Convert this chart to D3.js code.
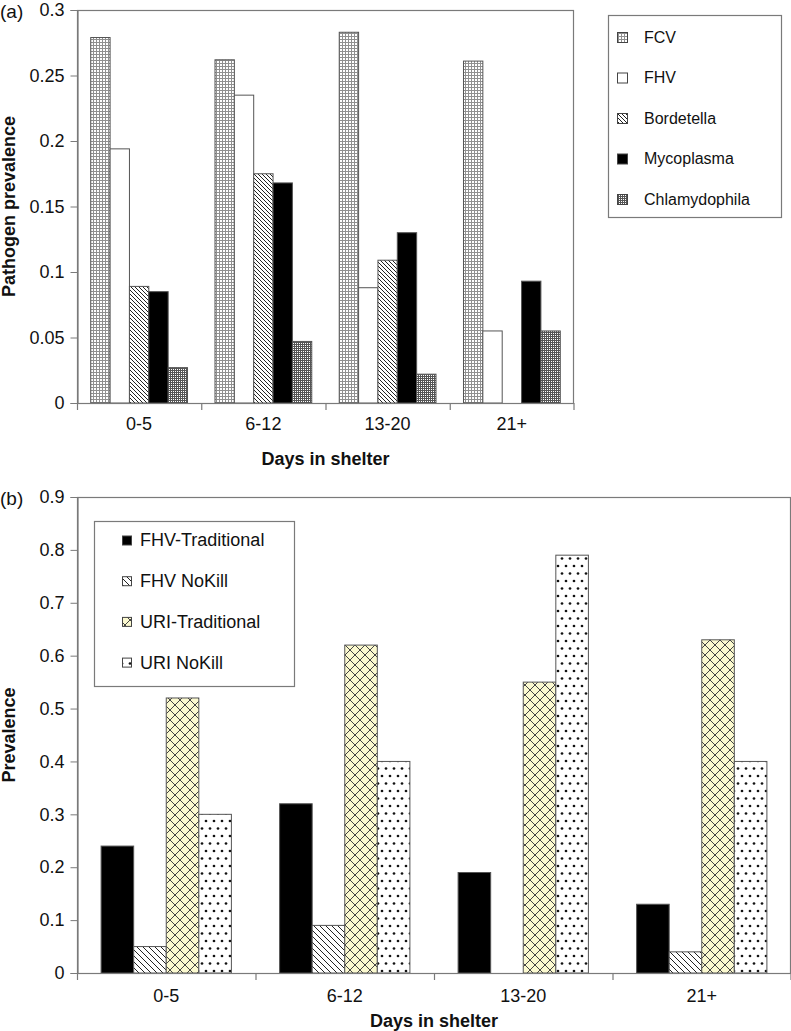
<!DOCTYPE html>
<html><head><meta charset="utf-8">
<script src="https://cdn.jsdelivr.net/npm/d3@7"></script>
<style>
html,body{margin:0;padding:0;background:#fff;}
text{font-family:"Liberation Sans",Arial,sans-serif;fill:#111;}
</style></head>
<body>
<svg id="chart" width="791" height="1031"></svg>
<script>
// ---------- data ----------
const categories = ["0-5", "6-12", "13-20", "21+"];

const seriesA = ["FCV", "FHV", "Bordetella", "Mycoplasma", "Chlamydophila"];
const fcv           = [0.279, 0.262, 0.283, 0.261];
const fhv           = [0.194, 0.235, 0.088, 0.055];
const bordetella    = [0.089, 0.175, 0.109, 0];
const mycoplasma    = [0.085, 0.168, 0.130, 0.093];
const chlamydophila = [0.027, 0.047, 0.022, 0.055];
const yTicksA = [0, 0.05, 0.1, 0.15, 0.2, 0.25, 0.3];

const seriesB = ["FHV-Traditional", "FHV NoKill", "URI-Traditional", "URI NoKill"];
const fhvTraditional = [0.24, 0.32, 0.19, 0.13];
const fhvNoKill      = [0.05, 0.09, 0, 0.04];
const uriTraditional = [0.52, 0.62, 0.55, 0.63];
const uriNoKill      = [0.30, 0.40, 0.79, 0.40];
const yTicksB = [0, 0.1, 0.2, 0.3, 0.4, 0.5, 0.6, 0.7, 0.8, 0.9];

const valuesA = [fcv, fhv, bordetella, mycoplasma, chlamydophila];
const valuesB = [fhvTraditional, fhvNoKill, uriTraditional, uriNoKill];

// ---------- patterns ----------
const svg = d3.select("#chart");
const defs = svg.append("defs");

function pat(id, w, h, fill) {
  const p = defs.append("pattern").attr("id", id).attr("patternUnits", "userSpaceOnUse")
    .attr("width", w).attr("height", h);
  p.append("rect").attr("width", w).attr("height", h).attr("fill", fill);
  return p;
}
// FCV: light grid with white squares
let p = pat("pFCV", 3, 3, "#fff");
p.append("rect").attr("width", 3).attr("height", 1).attr("fill", "#909090");
p.append("rect").attr("width", 1).attr("height", 3).attr("fill", "#909090");
// Chlamydophila: dense dark grid
p = pat("pCHL", 2, 2, "#fff");
p.append("rect").attr("width", 2).attr("height", 1).attr("fill", "#555");
p.append("rect").attr("width", 1).attr("height", 2).attr("fill", "#555");
// Bordetella: back-diagonal lines
p = pat("pBOR", 4, 4, "#fff");
p.append("path").attr("d", "M-1,-1L5,5M-1,3L1,5M3,-1L5,1").attr("stroke", "#222").attr("stroke-width", 1);
// FHV NoKill: back-diagonal lines wider
p = pat("pNK", 6, 6, "#fff");
p.append("path").attr("d", "M-1,-1L7,7M-1,5L1,7M5,-1L7,1").attr("stroke", "#222").attr("stroke-width", 1);
// URI-Traditional: yellow with crosshatch
p = pat("pURI", 10, 10, "#fbf9cf");
p.append("path").attr("d", "M0,0L10,10M10,0L0,10").attr("stroke", "#444").attr("stroke-width", 1);
// URI NoKill: staggered dots
p = pat("pDOT", 8, 15, "#fff");
p.append("circle").attr("cx", 2).attr("cy", 3.5).attr("r", 1.35).attr("fill", "#111");
p.append("circle").attr("cx", 6).attr("cy", 11).attr("r", 1.35).attr("fill", "#111");

const fillsA = ["url(#pFCV)", "#fff", "url(#pBOR)", "#000", "url(#pCHL)"];
const fillsB = ["#000", "url(#pNK)", "url(#pURI)", "url(#pDOT)"];

const frameColor = "#7a7a7a";

function drawPanel(opt) {
  const g = svg.append("g");
  const x = d3.scaleBand().domain(categories).range([opt.left, opt.right]).padding(0);
  const x1 = d3.scaleBand().domain(opt.series).range([0, x.bandwidth()])
    .paddingInner(0).paddingOuter(opt.outer);
  const y = d3.scaleLinear().domain([0, opt.ymax]).range([opt.bottom, opt.top]);

  // frame
  g.append("rect").attr("x", opt.left + 0.5).attr("y", opt.top + 0.5)
    .attr("width", opt.right - opt.left - 1).attr("height", opt.bottom - opt.top)
    .attr("fill", "none").attr("stroke", frameColor).attr("stroke-width", 1.2);

  // bars
  opt.series.forEach((s, si) => {
    categories.forEach((c, ci) => {
      const v = opt.values[si][ci];
      if (!v) return;
      g.append("rect")
        .attr("x", x(c) + x1(s)).attr("y", y(v))
        .attr("width", x1.bandwidth()).attr("height", y(0) - y(v))
        .attr("fill", opt.fills[si]).attr("stroke", "#555").attr("stroke-width", 1);
    });
  });

  // y axis
  const ya = d3.axisLeft(y).tickValues(opt.yticks).tickSize(7).tickPadding(6)
    .tickFormat(d => String(d));
  const yg = g.append("g").attr("transform", `translate(${opt.left + 0.5},0)`).call(ya);
  yg.select(".domain").attr("stroke", frameColor).attr("stroke-width", 1.2);
  yg.selectAll(".tick line").attr("stroke", frameColor);
  yg.selectAll(".tick text").attr("font-size", 18).attr("font-family", "Liberation Sans, Arial, sans-serif").attr("fill", "#111");

  // x axis baseline + boundary ticks
  g.append("line").attr("x1", opt.left).attr("x2", opt.right).attr("y1", opt.bottom + 0.5).attr("y2", opt.bottom + 0.5)
    .attr("stroke", frameColor).attr("stroke-width", 1.2);
  const bounds = categories.map(c => x(c)).concat([x.range()[1] - 0.5]);
  g.selectAll(".xt").data(bounds).enter().append("line")
    .attr("x1", d => d + 0.5).attr("x2", d => d + 0.5)
    .attr("y1", opt.bottom).attr("y2", opt.bottom + 7)
    .attr("stroke", frameColor).attr("stroke-width", 1.2);
  g.selectAll(".xl").data(categories).enter().append("text")
    .attr("x", d => x(d) + x.bandwidth() / 2).attr("y", opt.bottom + opt.catOff)
    .attr("text-anchor", "middle").attr("font-size", 18).text(d => d);

  // titles
  g.append("text").attr("x", (opt.left + opt.right) / 2).attr("y", opt.xTitleY)
    .attr("text-anchor", "middle").attr("font-size", 18).attr("font-weight", "bold").text("Days in shelter");
  g.append("text").attr("transform", `translate(15,${(opt.top + opt.bottom) / 2}) rotate(-90)`)
    .attr("text-anchor", "middle").attr("font-size", 18).attr("font-weight", "bold").text(opt.yTitle);
  g.append("text").attr("x", 0).attr("y", opt.top + 8).attr("font-size", 19).text(opt.tag);

  // legend
  const L = opt.legend;
  g.append("rect").attr("x", L.x + 0.5).attr("y", L.y + 0.5).attr("width", L.w).attr("height", L.h)
    .attr("fill", "#fff").attr("stroke", frameColor).attr("stroke-width", 1.2);
  opt.series.forEach((s, i) => {
    const cy = L.firstY + i * L.step;
    g.append("rect").attr("x", L.sx + 0.5).attr("y", cy - L.sw / 2 + 0.5).attr("width", L.sw).attr("height", L.sw)
      .attr("fill", opt.fills[i]).attr("stroke", "#444").attr("stroke-width", 1);
    g.append("text").attr("x", L.tx).attr("y", cy).attr("dy", "0.36em")
      .attr("font-size", L.fs).text(s);
  });
}

drawPanel({
  series: seriesA, values: valuesA, fills: fillsA, ymax: 0.3, yticks: yTicksA,
  left: 77, right: 574, top: 10, bottom: 403, outer: 0.71, catOff: 27,
  xTitleY: 465, yTitle: "Pathogen prevalence", tag: "(a)",
  legend: { x: 608, y: 15, w: 173, h: 202, sx: 617, sw: 10, tx: 644, firstY: 37, step: 40.5, fs: 16 }
});

drawPanel({
  series: seriesB, values: valuesB, fills: fillsB, ymax: 0.9, yticks: yTicksB,
  left: 77, right: 791, top: 497, bottom: 973, outer: 0.74, catOff: 29,
  xTitleY: 1027, yTitle: "Prevalence", tag: "(b)",
  legend: { x: 94, y: 521, w: 200, h: 165, sx: 122, sw: 9, tx: 140, firstY: 540, step: 40.7, fs: 18 }
});
</script>
</body></html>
